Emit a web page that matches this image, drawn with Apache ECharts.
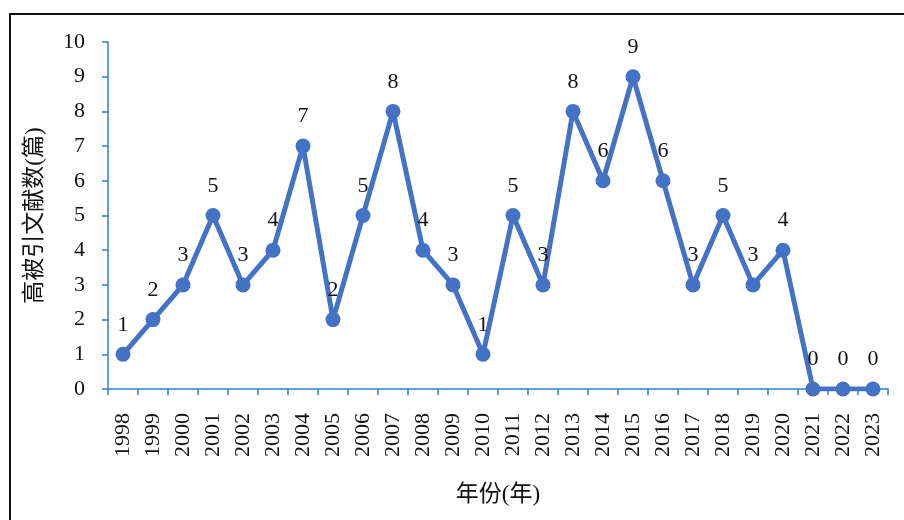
<!DOCTYPE html>
<html>
<head>
<meta charset="utf-8">
<script src="https://cdn.jsdelivr.net/npm/echarts@6/dist/echarts.min.js"></script>
<style>
  html, body { margin: 0; padding: 0; background: #fff; }
  #chart { width: 904px; height: 520px; }
</style>
</head>
<body>
<div id="chart"></div>
<script>
const years = ["1998", "1999", "2000", "2001", "2002", "2003", "2004", "2005", "2006", "2007", "2008", "2009", "2010",
  "2011", "2012", "2013", "2014", "2015", "2016", "2017", "2018", "2019", "2020", "2021", "2022", "2023"];
const counts = [1, 2, 3, 5, 3, 4, 7, 2, 5, 8, 4, 3, 1, 5, 3, 8, 6, 9, 6, 3, 5, 3, 4, 0, 0, 0];

const serif = '"Liberation Serif", "Noto Sans CJK SC", serif';
const axisBlue = "#2f7fd0";

const chart = echarts.init(document.getElementById("chart"), null, { renderer: "canvas" });

chart.setOption({
  backgroundColor: "#fff",
  animation: false,
  textStyle: { fontFamily: serif },
  graphic: [
    {
      type: "rect",
      shape: { x: 10, y: 14, width: 1000, height: 1000 },
      style: { fill: "none", stroke: "#111", lineWidth: 2 },
      z: 0
    }
  ],
  grid: { left: 108, right: 16, top: 42, bottom: 131 },
  xAxis: {
    type: "category",
    data: years,
    boundaryGap: true,
    name: "年份(年)",
    nameLocation: "middle",
    nameGap: 94,
    nameTextStyle: { fontFamily: serif, fontSize: 23, color: "#111" },
    axisLine: { lineStyle: { color: axisBlue, width: 1.5 } },
    axisTick: { show: true, length: 6, inside: false, lineStyle: { color: axisBlue, width: 1.5 } },
    axisLabel: { rotate: 90, margin: 24, fontFamily: serif, fontSize: 22, color: "#111", interval: 0 }
  },
  yAxis: {
    type: "value",
    min: 0,
    max: 10,
    interval: 1,
    name: "高被引文献数(篇)",
    nameLocation: "middle",
    nameRotate: 90,
    nameGap: 62,
    nameTextStyle: { fontFamily: serif, fontSize: 23, color: "#111" },
    axisLine: { show: true, lineStyle: { color: axisBlue, width: 1.5 } },
    axisTick: { show: true, length: 6, lineStyle: { color: axisBlue, width: 1.5 } },
    splitLine: { show: false },
    axisLabel: { margin: 23, fontFamily: serif, fontSize: 22, color: "#111" }
  },
  series: [
    {
      type: "line",
      data: counts,
      symbol: "circle",
      symbolSize: 15,
      itemStyle: { color: "#4472c4" },
      lineStyle: { color: "#4472c4", width: 5 },
      label: {
        show: true,
        position: "top",
        distance: 11,
        fontFamily: serif,
        fontSize: 22,
        color: "#111"
      }
    }
  ]
});
</script>
</body>
</html>
